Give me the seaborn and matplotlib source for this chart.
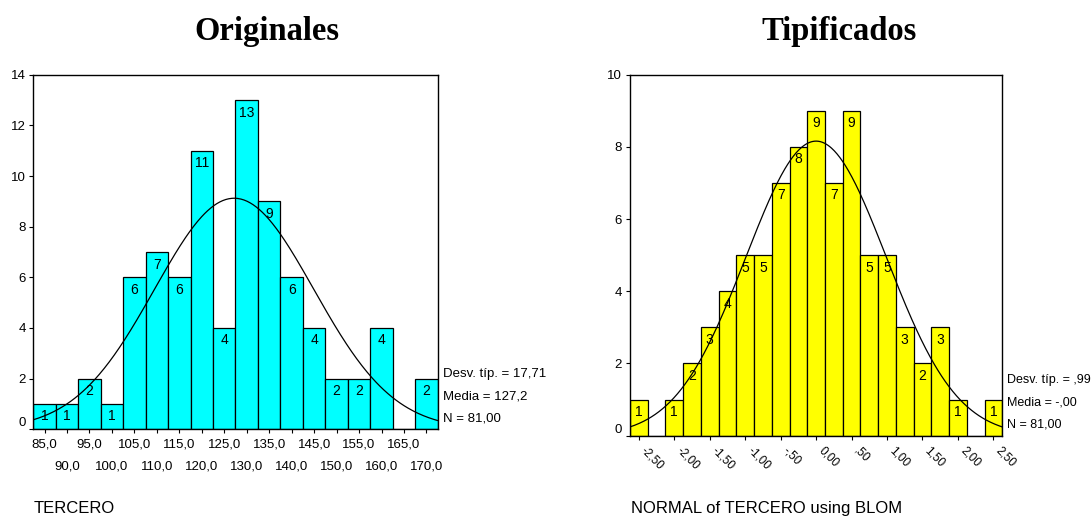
import numpy as np
import pandas as pd
import matplotlib
matplotlib.use("Agg")
import matplotlib.pyplot as plt
import seaborn as sns

# Raw scores: bin centres (width 5) and frequencies
orig_centers = [85, 90, 95, 100, 105, 110, 115, 120, 125, 130,
                135, 140, 145, 150, 155, 160, 165, 170]
orig_counts = [1, 1, 2, 1, 6, 7, 6, 11, 4, 13, 9, 6, 4, 2, 2, 4, 0, 2]
orig_major_ticks = [85, 95, 105, 115, 125, 135, 145, 155, 165]
orig_major_labels = ["85,0", "95,0", "105,0", "115,0", "125,0",
                     "135,0", "145,0", "155,0", "165,0"]
orig_minor_ticks = [90, 100, 110, 120, 130, 140, 150, 160, 170]
orig_minor_labels = ["90,0", "100,0", "110,0", "120,0", "130,0",
                     "140,0", "150,0", "160,0", "170,0"]
orig_yticks = [0, 2, 4, 6, 8, 10, 12, 14]
orig_stats = ["Desv. típ. = 17,71", "Media = 127,2", "N = 81,00"]
orig_mean, orig_sd, orig_n, orig_width = 127.2, 17.71, 81, 5.0

# Standardised scores (Blom): bin centres (width 0.25) and frequencies
z_centers = [-2.5, -2.25, -2.0, -1.75, -1.5, -1.25, -1.0, -0.75, -0.5, -0.25, 0.0,
             0.25, 0.5, 0.75, 1.0, 1.25, 1.5, 1.75, 2.0, 2.25, 2.5]
z_counts = [1, 0, 1, 2, 3, 4, 5, 5, 7, 8, 9, 7, 9, 5, 5, 3, 2, 3, 1, 0, 1]
z_ticks = [-2.5, -2.0, -1.5, -1.0, -0.5, 0.0, 0.5, 1.0, 1.5, 2.0, 2.5]
z_tick_labels = ["-2,50", "-2,00", "-1,50", "-1,00", "-,50", "0,00",
                 ",50", "1,00", "1,50", "2,00", "2,50"]
z_yticks = [0, 2, 4, 6, 8, 10]
z_stats = ["Desv. típ. = ,99", "Media = -,00", "N = 81,00"]
z_mean, z_sd, z_n, z_width = 0.0, 0.99, 81, 0.25

sns.set_style("ticks")
plt.rcParams["font.family"] = ["Liberation Sans", "DejaVu Sans"]
plt.rcParams.update({
    "axes.linewidth": 1.0,
    "text.color": "black",
    "axes.labelcolor": "black",
    "xtick.color": "black",
    "ytick.color": "black",
    "axes.edgecolor": "black",
})

fig = plt.figure(figsize=(10.92, 5.17), dpi=100)
ax_l = fig.add_axes([0.0305, 0.1696, 0.3703, 0.6859])
ax_r = fig.add_axes([0.5769, 0.1573, 0.3409, 0.6982])


def draw_panel(ax, centers, counts, width, color, mean, sd, n, ymax):
    df = pd.DataFrame({"value": centers, "count": counts})
    lo = min(centers) - width / 2
    hi = max(centers) + width / 2
    sns.histplot(data=df, x="value", weights="count", binwidth=width,
                 binrange=(lo, hi), color=color, edgecolor="black",
                 linewidth=0.9, alpha=1.0, ax=ax)
    # frequency written just inside the top of each bar
    for c, k in zip(centers, counts):
        if k > 0:
            ax.annotate(str(k), (c, k), xytext=(0, -9), textcoords="offset points",
                        ha="center", va="center", fontsize=10, color="black")
    # fitted normal curve scaled to counts
    xs = np.linspace(lo, hi, 400)
    ys = n * width / (sd * np.sqrt(2 * np.pi)) * np.exp(-0.5 * ((xs - mean) / sd) ** 2)
    sns.lineplot(x=xs, y=ys, color="black", linewidth=0.9, ax=ax)
    ax.set_xlim(lo, hi)
    ax.set_ylim(0, ymax)
    ax.set_xlabel("")
    ax.set_ylabel("")
    for s in ax.spines.values():
        s.set_visible(True)
        s.set_color("black")


draw_panel(ax_l, orig_centers, orig_counts, orig_width, "#00FFFF",
           orig_mean, orig_sd, orig_n, 14)
draw_panel(ax_r, z_centers, z_counts, z_width, "#FFFF00",
           z_mean, z_sd, z_n, 10)

# left panel axes: staggered x labels on two rows
ax_l.set_yticks(orig_yticks, labels=[str(v) for v in orig_yticks])
ax_l.set_xticks(orig_major_ticks, labels=orig_major_labels)
ax_l.set_xticks(orig_minor_ticks, labels=orig_minor_labels, minor=True)
ax_l.tick_params(axis="x", which="major", length=3, width=0.8, pad=3.8, labelsize=9.5)
ax_l.tick_params(axis="x", which="minor", length=3, width=0.8, pad=19.2, labelsize=9.5)
ax_l.tick_params(axis="y", length=3, width=0.8, pad=2.5, labelsize=9.5)

# right panel axes: rotated x labels
ax_r.set_yticks(z_yticks, labels=[str(v) for v in z_yticks])
ax_r.set_xticks(z_ticks, labels=z_tick_labels)
ax_r.tick_params(axis="x", length=3, width=0.8, pad=9.5, labelsize=8.5)
ax_r.tick_params(axis="y", length=3, width=0.8, pad=3, labelsize=9.5)
for lab in ax_r.get_xticklabels():
    lab.set_rotation(-45)
    lab.set_rotation_mode("anchor")
    lab.set_ha("left")
    lab.set_va("bottom")

# the zero label sits just above its tick
for ax in (ax_l, ax_r):
    ax.yaxis.get_major_ticks()[0].label1.set_va("bottom")

# panel titles
title_font = dict(family=["Liberation Serif", "DejaVu Serif"], fontsize=23.5,
                  fontweight="bold", ha="center", va="baseline", color="black")
fig.text(0.2445, 0.9226, "Originales", **title_font)
fig.text(0.7683, 0.9226, "Tipificados", **title_font)

# summary statistics beside each panel
for txt, yb in zip(orig_stats, [0.2714, 0.2277, 0.1843]):
    fig.text(0.406, yb, txt, fontsize=9.5, ha="left", va="baseline")
for txt, yb in zip(z_stats, [0.2586, 0.2153, 0.1727]):
    fig.text(0.9224, yb, txt, fontsize=9.0, ha="left", va="baseline")

# variable names
fig.text(0.0305, 0.0071, "TERCERO", fontsize=12, ha="left", va="baseline")
fig.text(0.5778, 0.0071, "NORMAL of TERCERO using BLOM", fontsize=12,
         ha="left", va="baseline")

fig.savefig("out.png", dpi=100, facecolor="white")
